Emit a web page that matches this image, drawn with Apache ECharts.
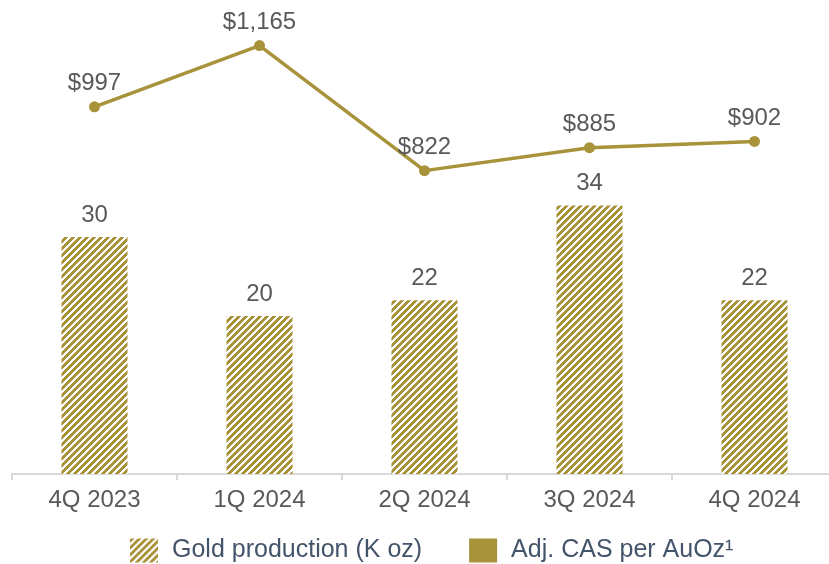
<!DOCTYPE html>
<html>
<head>
<meta charset="utf-8">
<script src="https://cdn.jsdelivr.net/npm/echarts@6/dist/echarts.min.js"></script>
<style>
  html, body { margin: 0; padding: 0; background: #ffffff; overflow: hidden; }
  /* the axis line runs a little past the right edge of the window */
  #chart { width: 840px; height: 564px; }
</style>
</head>
<body>
<div id="chart"></div>
<script>
// Quarterly gold production and adjusted cash cost
const quarters = ['4Q 2023', '1Q 2024', '2Q 2024', '3Q 2024', '4Q 2024'];
const goldProduction = [30, 20, 22, 34, 22];          // K oz
const adjCasPerOz = [997, 1165, 822, 885, 902];       // US$ per AuOz
const seriesNames = ['Gold production (K oz)', 'Adj. CAS per AuOz\u00b9'];

const GOLD = '#A8923A';
const LABEL = '#595959';
const FONT = 'Liberation Sans, Arial, sans-serif';

// Diagonal hatch tile for the production bars
function hatchTile() {
  const size = 7;
  const c = document.createElement('canvas');
  c.width = size; c.height = size;
  const ctx = c.getContext('2d');
  ctx.fillStyle = '#ffffff';
  ctx.fillRect(0, 0, size, size);
  ctx.fillStyle = GOLD;
  for (let y = 0; y < size; y++) {
    for (let x = 0; x < size; x++) {
      if ((x + y) % size < 4) ctx.fillRect(x, y, 1, 1);
    }
  }
  return c;
}
const hatch = { image: hatchTile(), repeat: 'repeat' };

const chart = echarts.init(document.getElementById('chart'), null, { renderer: 'canvas' });
chart.setOption({
  animation: false,
  textStyle: { fontFamily: FONT },
  grid: { left: 12, width: 825, top: 0, bottom: 90, containLabel: false },
  legend: {
    top: 533,
    left: 125,
    itemWidth: 28,
    itemHeight: 24,
    itemGap: 47,
    icon: 'rect',
    data: seriesNames,
    textStyle: { color: '#44546A', fontSize: 25, fontFamily: FONT, padding: [0, 0, 0, 9] }
  },
  xAxis: {
    type: 'category',
    data: quarters,
    axisLine: { show: true, lineStyle: { color: '#D9D9D9', width: 2 } },
    axisTick: { show: true, length: 6, lineStyle: { color: '#D9D9D9', width: 2 } },
    axisLabel: { color: LABEL, fontSize: 24, fontFamily: FONT, margin: 14 }
  },
  yAxis: [
    { type: 'value', min: 0, max: 60, show: false, splitLine: { show: false } },
    { type: 'value', min: -10, max: 1290, show: false, splitLine: { show: false } }
  ],
  series: [
    {
      name: seriesNames[0],
      type: 'bar',
      yAxisIndex: 0,
      data: goldProduction,
      barWidth: 66,
      itemStyle: { color: hatch },
      label: {
        show: true, position: 'top', distance: 10,
        color: LABEL, fontSize: 24, fontFamily: FONT
      }
    },
    {
      name: seriesNames[1],
      type: 'line',
      yAxisIndex: 1,
      data: adjCasPerOz,
      symbol: 'circle',
      symbolSize: 11,
      lineStyle: { color: GOLD, width: 3.5 },
      itemStyle: { color: GOLD },
      label: {
        show: true, position: 'top', distance: 6,
        color: LABEL, fontSize: 24, fontFamily: FONT,
        formatter: p => '$' + p.value.toLocaleString('en-US')
      }
    }
  ]
});
</script>
</body>
</html>
